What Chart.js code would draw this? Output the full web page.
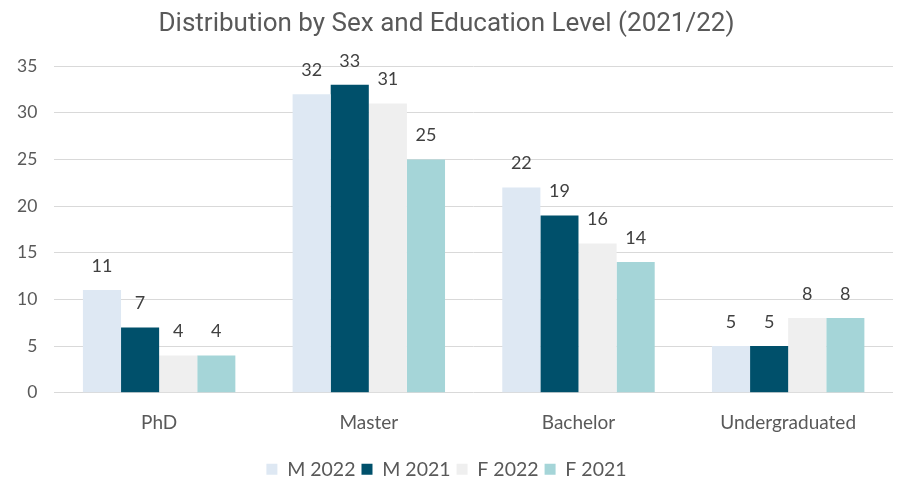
<!DOCTYPE html>
<html><head><meta charset="utf-8">
<script src="https://cdn.jsdelivr.net/npm/chart.js@4/dist/chart.umd.min.js"></script>
<style>html,body{margin:0;padding:0;background:#fff;}#wrap{width:898px;height:478px;position:relative;}</style>
</head><body><div id="wrap"><canvas id="c"></canvas></div>
<script>
const categories = ["PhD", "Master", "Bachelor", "Undergraduated"];
const m2022 = [11, 32, 22, 5];
const m2021 = [7, 33, 19, 5];
const f2022 = [4, 31, 16, 8];
const f2021 = [4, 25, 14, 8];
const seriesNames = ["M 2022", "M 2021", "F 2022", "F 2021"];
const yTicks = [0, 5, 10, 15, 20, 25, 30, 35];

const colors = ["#dee8f3", "#00506b", "#efefef", "#a5d5d8"];
const FONT = "Lato, 'Open Sans', sans-serif";

const labelPlugin = {
  id: 'vlabels',
  afterDatasetsDraw(chart) {
    const ctx = chart.ctx;
    ctx.save();
    ctx.font = "18px " + FONT;
    ctx.fillStyle = "#404040";
    ctx.textAlign = "center";
    ctx.textBaseline = "middle";
    chart.data.datasets.forEach((ds, i) => {
      const meta = chart.getDatasetMeta(i);
      meta.data.forEach((bar, j) => {
        ctx.fillText(String(ds.data[j]), bar.x, bar.y - 24);
      });
    });
    ctx.restore();
  }
};

new Chart(document.getElementById('c'), {
  type: 'bar',
  data: {
    labels: categories,
    datasets: [m2022, m2021, f2022, f2021].map((d, i) => ({
      label: seriesNames[i],
      data: d,
      backgroundColor: colors[i],
      borderWidth: 0,
      categoryPercentage: 0.727,
      barPercentage: 1.0
    }))
  },
  options: {
    responsive: true,
    maintainAspectRatio: false,
    animation: false,
    layout: { padding: { left: 0, right: 5, top: 0, bottom: -11 } },
    plugins: {
      title: {
        display: true,
        text: "Distribution by Sex and Education Level (2021/22)",
        color: "#595959",
        font: { family: "Roboto, sans-serif", size: 26, weight: 'normal' },
        padding: { top: 9, bottom: 26 }
      },
      legend: {
        position: 'bottom',
        labels: {
          color: "#595959",
          font: { family: FONT, size: 19.5 },
          boxWidth: 11, boxHeight: 11,
          padding: 6
        }
      },
      tooltip: { enabled: false }
    },
    scales: {
      y: {
        min: 0, max: 35,
        afterBuildTicks(axis) { axis.ticks = yTicks.map(v => ({ value: v })); },
        grid: { color: "#d9d9d9", drawTicks: false, lineWidth: 1 },
        border: { display: false },
        ticks: { color: "#595959", font: { family: FONT, size: 17.5 }, padding: 17 }
      },
      x: {
        grid: { display: false, drawTicks: false },
        border: { display: false },
        ticks: { color: "#595959", font: { family: FONT, size: 19 }, padding: 19 }
      }
    }
  },
  plugins: [labelPlugin]
});
</script></body></html>
